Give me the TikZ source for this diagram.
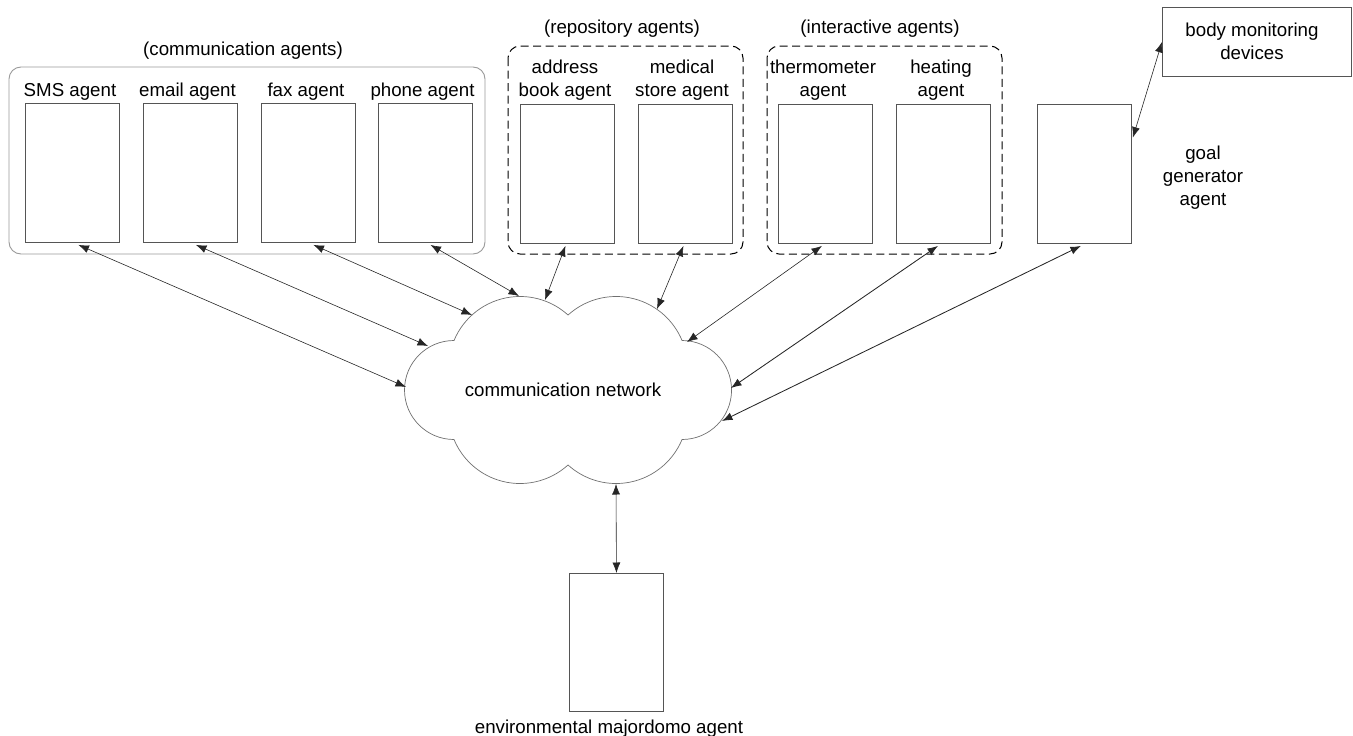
\documentclass[tikz,border=0pt]{standalone}
\usepackage{fontspec}
\setmainfont{Liberation Sans}
\usetikzlibrary{arrows.meta,calc}
\definecolor{boxline}{HTML}{555555}
\definecolor{groupline}{HTML}{9A9A9A}
\definecolor{cloudline}{HTML}{707070}
\begin{document}
\begin{tikzpicture}[x=1pt,y=-1pt,
  every node/.style={font=\fontsize{18.7}{23}\selectfont, text=black},
  agentbox/.style={draw=boxline, line width=0.9pt, minimum width=94pt,
    minimum height=139pt, inner sep=0pt, anchor=north west},
  caption/.style={anchor=base, inner sep=0pt, align=center},
  groupsolid/.style={draw=groupline, line width=0.9pt, rounded corners=12pt},
  groupdashed/.style={draw=black, line width=1pt, rounded corners=12pt,
    dash pattern=on 8pt off 4.5pt},
  link/.style={{Latex[length=10.5pt,width=8pt]}-{Latex[length=10.5pt,width=8pt]},
    line width=0.6pt, draw=black!85},
]
\useasboundingbox (0,0) rectangle (1353,736);

% agent groups
\draw[groupsolid] (9,67) rectangle (485,254);
\draw[groupdashed] (508,46) rectangle (743,254);
\draw[groupdashed] (767,46) rectangle (1002,254);
\node[caption] (commlbl) at (243,55) {(communication agents)};
\node[caption] (repolbl) at (622,33) {(repository agents)};
\node[caption] (interlbl) at (880,33) {(interactive agents)};

% agents
\node[agentbox] (sms) at (25,103) {};
\node[agentbox] (email) at (143,103) {};
\node[agentbox] (fax) at (261,103) {};
\node[agentbox] (phone) at (378,103) {};
\node[agentbox] (address) at (520,104) {};
\node[agentbox] (medical) at (638,104) {};
\node[agentbox] (thermo) at (778,104) {};
\node[agentbox] (heating) at (896,104) {};
\node[agentbox] (goal) at (1037,104) {};
\node[agentbox, minimum height=138pt] (env) at (569,573) {};
\node[draw=boxline, line width=0.9pt, minimum width=189pt, minimum height=69pt,
  inner sep=0pt, anchor=north west] (body) at (1162,7) {};
\node[caption] (bodylbl) at (1252,59) {body monitoring\\devices};

% agent names (a multi-line caption sits on the baseline of its last line)
\node[caption] (smslbl) at (70,96) {SMS agent};
\node[caption] (emaillbl) at (187.5,96) {email agent};
\node[caption] (faxlbl) at (306,96) {fax agent};
\node[caption] (phonelbl) at (422.5,96) {phone agent};
\node[caption] (addresslbl) at (565,96) {address\\book agent};
\node[caption] (medicallbl) at (682,96) {medical\\store agent};
\node[caption] (thermolbl) at (823,96) {thermometer\\agent};
\node[caption] (heatinglbl) at (941,96) {heating\\agent};
\node[caption] (goallbl) at (1203,205) {goal\\generator\\agent};
\node[caption] (envlbl) at (609,733) {environmental majordomo agent};

% communication network cloud
\draw[cloudline, line width=0.7pt, fill=white]
  (454,340.5) arc[start angle=157.4, end angle=47.8, radius=71.5pt]
  arc[start angle=132.2, end angle=22.6, radius=71.5pt]
  arc[start angle=90, end angle=-90, radius=49.5pt]
  arc[start angle=-22.6, end angle=-132.2, radius=71.5pt]
  arc[start angle=-47.8, end angle=-157.4, radius=71.5pt]
  arc[start angle=-90, end angle=-270, radius=49.5pt] -- cycle;
\node (net) at (563,390) {communication network};

% attachment points on the cloud outline
\coordinate (cSMS) at (406,387);
\coordinate (cEmail) at (428,346);
\coordinate (cFax) at (472,315);
\coordinate (cPhone) at (519,296);
\coordinate (cAddr) at (545,300);
\coordinate (cMed) at (657,309);
\coordinate (cTherm) at (687,342);
\coordinate (cHeat) at (731,388);
\coordinate (cGoal) at (722,421);
\coordinate (cEnv) at (616,484);

% connections
\draw[link] ($(sms.south)+(6,2)$) -- (cSMS);
\draw[link] ($(email.south)+(5.5,2)$) -- (cEmail);
\draw[link] ($(fax.south)+(5,2)$) -- (cFax);
\draw[link] ($(phone.south)+(5,2)$) -- (cPhone);
\draw[link] ($(address.south)+(-2,2)$) -- (cAddr);
\draw[link] ($(medical.south)+(-2,2)$) -- (cMed);
\draw[link] ($(thermo.south)+(-3.5,2)$) -- (cTherm);
\draw[link, line width=0.85pt] ($(heating.south)+(-5.5,2)$) -- (cHeat);
\draw[link, line width=0.85pt] ($(goal.south)+(-3.5,2)$) -- (cGoal);
\draw[link] (cEnv) -- (env.north);
\draw[link] (body.west) -- ($(goal.north east)!0.24!(goal.south east)+(1,0)$);
\end{tikzpicture}
\end{document}
